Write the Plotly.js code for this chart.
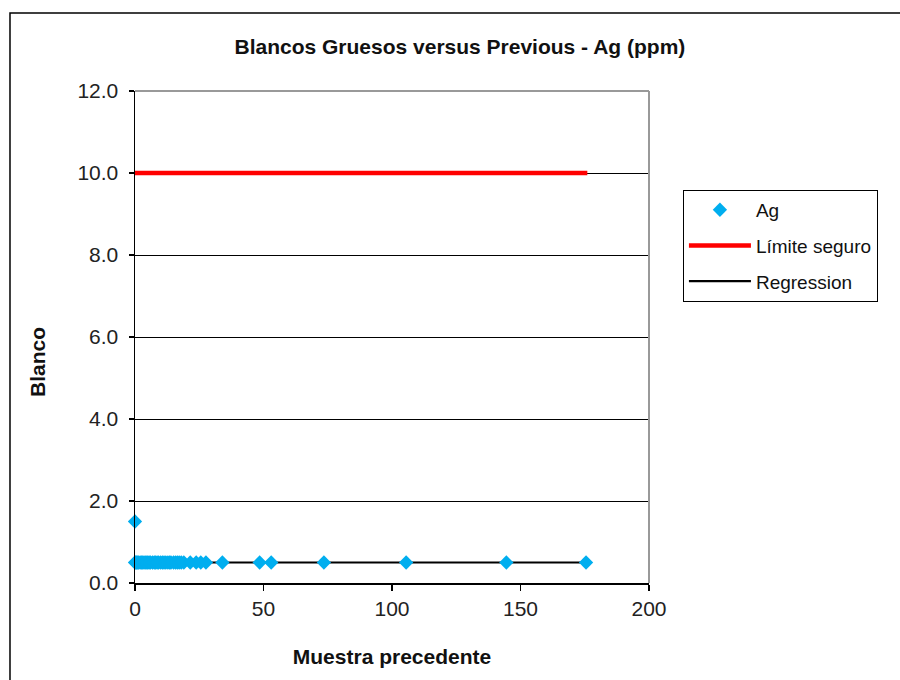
<!DOCTYPE html>
<html>
<head>
<meta charset="utf-8">
<script src="https://cdn.plot.ly/plotly-3.0.1.min.js"></script>
<style>
  html, body { margin: 0; padding: 0; background: #fff; }
  #chart { width: 900px; height: 680px; }
</style>
</head>
<body>
<div id="chart"></div>
<script>
// Preceding sample value (ppm) for each coarse blank
const previousAg = [
  0, 0, 0.3, 0.6, 1, 1.4, 2, 2.5, 3, 3.5, 4, 4.6, 5, 5.5, 6, 6.8, 7.5, 8,
  8.6, 9.2, 10, 10.7, 11.3, 12, 12.8, 13.5, 14, 15, 15.8, 16.5, 17.2, 18, 19,
  21.5, 23.8, 25.6, 27.6, 34, 48.5, 53, 73.5, 105.5, 144.5, 175.5
];
// Blank assay value (ppm)
const blankAg = [
  1.5, 0.5, 0.5, 0.5, 0.5, 0.5, 0.5, 0.5, 0.5, 0.5, 0.5, 0.5, 0.5, 0.5, 0.5, 0.5, 0.5, 0.5,
  0.5, 0.5, 0.5, 0.5, 0.5, 0.5, 0.5, 0.5, 0.5, 0.5, 0.5, 0.5, 0.5, 0.5, 0.5,
  0.5, 0.5, 0.5, 0.5, 0.5, 0.5, 0.5, 0.5, 0.5, 0.5, 0.5
];
// Safe limit line
const limitX = [0, 176];
const limitY = [10, 10];
// Regression line
const regX = [0, 176];
const regY = [0.5, 0.5];
// Axis ticks
const xTicks = [0, 50, 100, 150, 200];
const yTicks = [0, 2, 4, 6, 8, 10, 12];

const FONT = 'Liberation Sans, Arial, sans-serif';

// drawing order: lines first, markers on top; legend order set by legendrank
const traces = [
  {
    x: limitX, y: limitY, name: 'Límite seguro', type: 'scatter', mode: 'lines',
    legendgroup: 'b', legendrank: 2,
    line: { color: '#FF0000', width: 4.5 }
  },
  {
    x: regX, y: regY, name: 'Regression', type: 'scatter', mode: 'lines',
    legendgroup: 'c', legendrank: 3,
    line: { color: '#000000', width: 2.2 }
  },
  {
    x: previousAg, y: blankAg, name: 'Ag', type: 'scatter', mode: 'markers',
    legendgroup: 'a', legendrank: 1,
    marker: { symbol: 'diamond', size: 11, color: '#00AEEF' },
    cliponaxis: false
  }
];

const layout = {
  width: 900, height: 680,
  margin: { l: 135, r: 251, t: 91, b: 97 },
  paper_bgcolor: '#ffffff', plot_bgcolor: '#ffffff',
  font: { family: FONT, size: 19, color: '#222' },
  title: {
    text: '<b>Blancos Gruesos versus Previous - Ag (ppm)</b>',
    font: { family: FONT, size: 21, color: '#111' },
    xref: 'container', x: 0.511, xanchor: 'center',
    yref: 'container', y: 0.931, yanchor: 'middle'
  },
  xaxis: {
    range: [0, 200], tickvals: xTicks, ticktext: xTicks.map(String),
    showgrid: false, zeroline: false,
    showline: true, linecolor: '#000', linewidth: 1.5,
    ticks: 'outside', ticklen: 6, tickcolor: '#000', tickwidth: 1.5,
    tickfont: { family: FONT, size: 21, color: '#222' },
    title: { text: '<b>Muestra precedente</b>', font: { family: FONT, size: 21, color: '#111' }, standoff: 30 },
    fixedrange: true
  },
  yaxis: {
    range: [0, 12], tickvals: yTicks, ticktext: yTicks.map(v => v.toFixed(1)),
    showgrid: true, gridcolor: '#000', gridwidth: 1, zeroline: false,
    showline: true, linecolor: '#000', linewidth: 1.5,
    ticks: 'outside', ticklen: 5, tickcolor: '#000', tickwidth: 1.5,
    ticklabelstandoff: 6,
    tickfont: { family: FONT, size: 21, color: '#222' },
    fixedrange: true
  },
  annotations: [
    { text: '<b>Blanco</b>', xref: 'paper', yref: 'paper',
      x: -0.191, y: 0.449, xanchor: 'center', yanchor: 'middle',
      textangle: -90, showarrow: false,
      font: { family: FONT, size: 21, color: '#111' } }
  ],
  showlegend: true,
  legend: {
    x: 1.066, xanchor: 'left', y: 0.799, yanchor: 'top',
    bgcolor: '#fff', bordercolor: '#000', borderwidth: 1,
    font: { family: FONT, size: 19, color: '#111' },
    tracegroupgap: 8, itemwidth: 62,
    traceorder: 'grouped'
  },
  shapes: [
    // chart frame
    { type: 'rect', xref: 'paper', yref: 'paper', x0: -0.2432, x1: 2, y0: -1, y1: 1.1585,
      line: { color: '#000', width: 1.5 }, fillcolor: 'rgba(0,0,0,0)' },
    // plot area border (top, right)
    { type: 'line', xref: 'paper', yref: 'paper', x0: 0, x1: 1, y0: 1, y1: 1,
      line: { color: '#999', width: 2 } },
    { type: 'line', xref: 'paper', yref: 'paper', x0: 1, x1: 1, y0: 0, y1: 1,
      line: { color: '#999', width: 2 } }
  ]
};

Plotly.newPlot('chart', traces, layout, { displayModeBar: false, staticPlot: true });
</script>
</body>
</html>
